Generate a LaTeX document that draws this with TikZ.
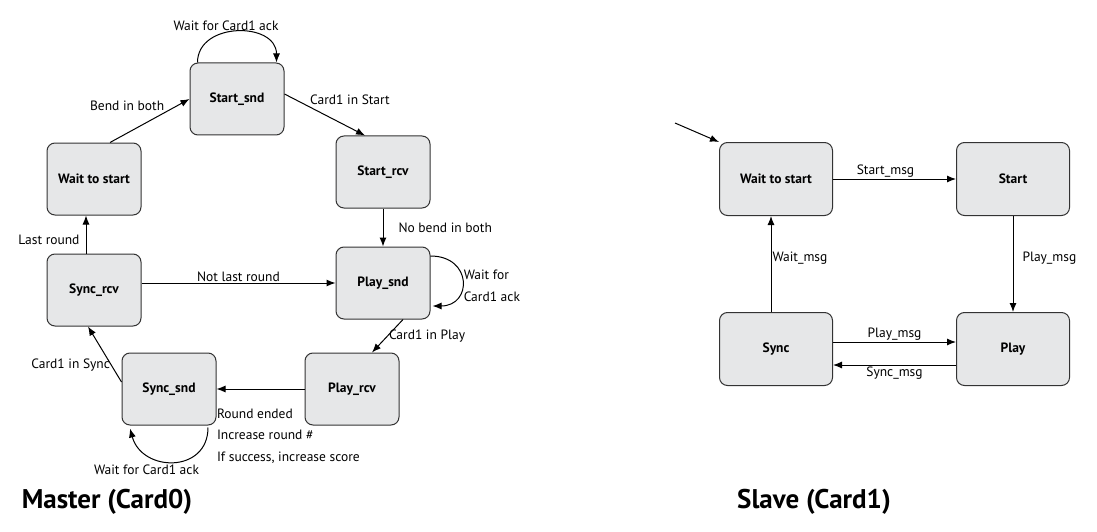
\documentclass[tikz,border=0pt]{standalone}
\usepackage{fontspec}
\setmainfont{PT Sans}
\usetikzlibrary{arrows.meta}
\definecolor{boxgray}{HTML}{E6E7E8}
\tikzstyle{state}=[rectangle,rounded corners=8pt,fill=boxgray,draw=black!80,line width=1pt,minimum width=94pt,minimum height=72pt,inner sep=0pt,font=\fontsize{13.5}{15}\selectfont\bfseries]
\tikzstyle{bigstate}=[state,minimum width=113pt,minimum height=73pt]
\tikzstyle{edge} = [draw,line width=1pt,-{Latex[length=9pt,width=7pt]}]
\tikzstyle{weight} = [font=\fontsize{13.5}{21.5}\selectfont,inner sep=1pt]
\tikzstyle{title} = [font=\fontsize{27}{30}\selectfont\bfseries]

\begin{document}
\begin{tikzpicture}[x=1pt,y=-1pt]
    \useasboundingbox (0,0) rectangle (1097,532);
    % Master (Card0)
    % First we draw the states
    \foreach \pos/\name/\txt in {{(94,179)/mWait/Wait to start},{(237,99)/mStartSnd/Start\_snd},{(383,172)/mStartRcv/Start\_rcv},{(383,283)/mPlaySnd/Play\_snd},{(94,290)/mSyncRcv/Sync\_rcv},{(169,389)/mSyncSnd/Sync\_snd},{(352,389)/mPlayRcv/Play\_rcv}}
        \node[state] (\name) at \pos {\txt};

    % Connect states with edges and draw labels
    \path[edge] ([xshift=16pt]mWait.north) -- node[weight,above left,pos=0.7] {Bend in both} (mStartSnd.west);
    \path[edge] ([yshift=5pt]mStartSnd.east) -- node[weight,above right,pos=0.3] {Card1 in Start} ([xshift=-18pt]mStartRcv.north);
    \path[edge] (mStartRcv.south) -- node[weight,right,xshift=14pt] {No bend in both} (mPlaySnd.north);
    \path[edge] ([xshift=20pt]mPlaySnd.south) -- node[weight,right] {Card1 in Play} ([xshift=20pt]mPlayRcv.north);
    \path[edge] (mPlayRcv.west) -- (mSyncSnd.east) node[weight,below right,align=left,yshift=-18pt,xshift=-1pt] {Round ended\\Increase round \#\\If success, increase score};
    \path[edge] ([yshift=7pt]mSyncSnd.west) -- node[weight,left,pos=0.3] {Card1 in Sync} ([xshift=-6pt]mSyncRcv.south);
    \path[edge] ([xshift=-8pt]mSyncRcv.north) -- node[weight,left,pos=0.35,xshift=-5pt] {Last round} ([xshift=-8pt]mWait.south);
    \path[edge] (mSyncRcv.east |- mPlaySnd) -- node[weight,above] {Not last round} (mPlaySnd.west);

    % self loops
    \path[edge] ([xshift=8pt]mStartSnd.north west) .. controls +(0,-41) and +(0,-41) .. ([xshift=-8pt]mStartSnd.north east) node[midway,weight,above,xshift=-11pt] {Wait for Card1 ack};
    \path[edge] ([yshift=27pt]mPlaySnd.east) .. controls +(42,0) and +(40,0) .. ([xshift=2pt,yshift=-23pt]mPlaySnd.east) node[midway,weight,right,align=left,yshift=-5pt] {Wait for\\Card1 ack};
    \path[edge] ([xshift=39pt,yshift=-2pt]mSyncSnd.south) .. controls +(0,46) and +(12,44) .. ([xshift=-39pt,yshift=-3pt]mSyncSnd.south) node[midway,weight,below,xshift=-27pt,yshift=-2pt] {Wait for Card1 ack};

    % Slave (Card1)
    \foreach \pos/\name/\txt in {{(776,179)/sWait/Wait to start},{(1013,179)/sStart/Start},{(776,349)/sSync/Sync},{(1013,349)/sPlay/Play}}
        \node[bigstate] (\name) at \pos {\txt};

    \coordinate (sInit) at (675,123);
    \path[edge] (sInit) -- (sWait.north west);
    \path[edge] (sWait.east) -- node[weight,above,xshift=-9pt] {Start\_msg} (sStart.west);
    \path[edge] (sStart.south) -- node[weight,right,xshift=8pt,yshift=6pt] {Play\_msg} (sPlay.north);
    \path[edge] ([yshift=7pt]sSync.east) -- node[weight,above] {Play\_msg} ([yshift=7pt]sPlay.west);
    \path[edge] ([yshift=-16pt]sPlay.west) -- node[weight,below] {Sync\_msg} ([yshift=-16pt]sSync.east);
    \path[edge] ([xshift=-5pt]sSync.north) -- node[weight,right,yshift=6pt] {Wait\_msg} ([xshift=-5pt]sWait.south);

    % titles
    \node[title] (mTitle) at (107,502) {Master (Card0)};
    \node[title] (sTitle) at (814,502) {Slave (Card1)};
\end{tikzpicture}
\end{document}
